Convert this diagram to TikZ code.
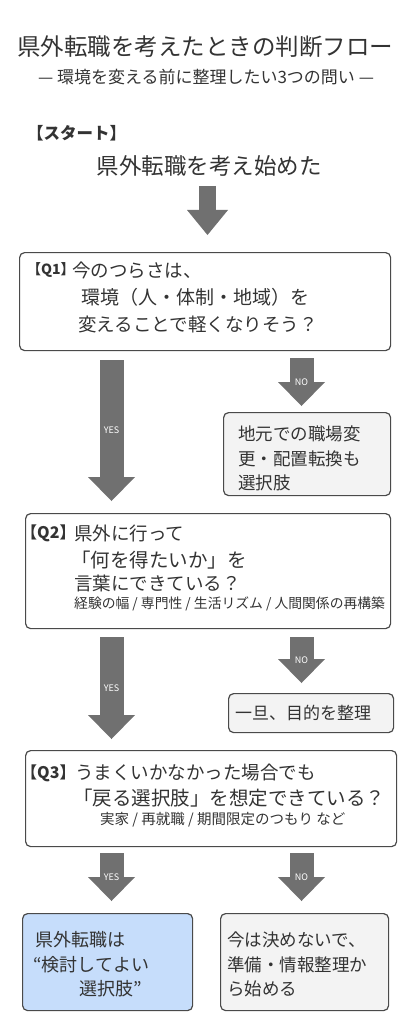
\documentclass[tikz,border=0pt]{standalone}
\usepackage{fontspec}
\setmainfont{Noto Sans CJK JP}
\usetikzlibrary{arrows.meta}
\usetikzlibrary{positioning}
\definecolor{ink}{HTML}{333333}
\definecolor{edge}{HTML}{4A4A4A}
\definecolor{arrowgray}{HTML}{707070}
\definecolor{palegray}{HTML}{F3F3F3}
\definecolor{paleblue}{HTML}{C6DDFB}
\tikzset{box/.style = {draw = edge, line width = 1.2pt, rounded corners = 5pt,
                       anchor = north west, inner sep = 0}}
\tikzset{txt/.style = {anchor = west, inner sep = 0, text = ink,
                       font = \fontsize{18.5}{20}\selectfont}}
\tikzset{note/.style = {txt, font = \fontsize{13.8}{15}\selectfont}}
\tikzset{tag/.style = {txt, font = \fontsize{14}{15}\bfseries}}
\tikzset{fat/.style = {draw = arrowgray, line width = 24pt,
                       -{Triangle[length = 24pt, width = 47pt, line width = 0pt]}}}
\tikzset{flag/.style = {text = white, font = \fontsize{9}{9}\selectfont, inner sep = 0}}

\begin{document}
\begin{tikzpicture}[x = 1pt, y = -1pt]
      \useasboundingbox (0, 0) rectangle (410, 1024);

      \node [text = ink, font = \fontsize{23.5}{25}\selectfont] (title) at (205, 47) {県外転職を考えたときの判断フロー};
      \node [text = ink, font = \fontsize{17}{18}\selectfont] (subtitle) at (206, 77) {— 環境を変える前に整理したい3つの問い —};

      \node [tag, font = \fontsize{16.5}{17}\bfseries] (starttag) at (27, 133) {【スタート】};
      \node [text = ink, font = \fontsize{22.5}{24}\selectfont] (start) at (209, 166) {県外転職を考え始めた};

      \node [box, minimum width = 371pt, minimum height = 98pt] (q1) at (19, 252) {};
      \node [tag] (q1tag) at (27, 270) {【Q1】};
      \node [txt] (q1a) at (72, 270) {今のつらさは、};
      \node [txt, font = \fontsize{19}{20}\selectfont] (q1b) at (81, 297) {環境（人・体制・地域）を};
      \node [txt] (q1c) at (78, 324) {変えることで軽くなりそう？};

      \node [box, fill = palegray, minimum width = 167pt, minimum height = 83pt] (r1) at (223, 412) {};
      \node [txt, font = \fontsize{17.5}{19}\selectfont] (r1a) at (238, 434) {地元での職場変};
      \node [txt, font = \fontsize{17.5}{19}\selectfont] (r1b) at (238, 459) {更・配置転換も};
      \node [txt, font = \fontsize{17.5}{19}\selectfont] (r1c) at (238, 483) {選択肢};

      \node [box, minimum width = 365pt, minimum height = 115pt] (q2) at (25, 513) {};
      \node [tag, font = \fontsize{16}{17}\bfseries] (q2tag) at (21, 533) {【Q2】};
      \node [txt] (q2a) at (74, 533) {県外に行って};
      \node [txt, font = \fontsize{19.5}{20}\selectfont] (q2b) at (71, 560) {「何を得たいか」を};
      \node [txt] (q2c) at (74, 583) {言葉にできている？};
      \node [note] (q2d) at (74, 604) {経験の幅 / 専門性 / 生活リズム / 人間関係の再構築};

      \node [box, fill = palegray, minimum width = 165pt, minimum height = 39pt] (r2) at (228, 693) {};
      \node [txt, font = \fontsize{17}{18}\selectfont] (r2a) at (235, 713) {一旦、目的を整理};

      \node [box, minimum width = 371pt, minimum height = 96pt] (q3) at (25, 750) {};
      \node [tag, font = \fontsize{16}{17}\bfseries] (q3tag) at (21, 773) {【Q3】};
      \node [txt] (q3a) at (75, 773) {うまくいかなかった場合でも};
      \node [txt, font = \fontsize{19.5}{20}\selectfont] (q3b) at (73, 798) {「戻る選択肢」を想定できている？};
      \node [note, font = \fontsize{14.5}{15}\selectfont] (q3c) at (100, 820) {実家 / 再就職 / 期間限定のつもり など};

      \node [box, fill = paleblue, minimum width = 170pt, minimum height = 97pt] (go) at (22, 913) {};
      \node [txt, font = \fontsize{18}{19}\selectfont] (goa) at (35, 940) {県外転職は};
      \node [txt, font = \fontsize{18}{19}\selectfont] (gob) at (33, 965) {“検討してよい};
      \node [txt, font = \fontsize{18}{19}\selectfont] (goc) at (79, 989) {選択肢”};

      \node [box, fill = palegray, minimum width = 168pt, minimum height = 97pt] (wait) at (220, 913) {};
      \node [txt, font = \fontsize{17.5}{19}\selectfont] (waita) at (227, 940) {今は決めないで、};
      \node [txt, font = \fontsize{17.5}{19}\selectfont] (waitb) at (227, 965) {準備・情報整理か};
      \node [txt, font = \fontsize{17.5}{19}\selectfont] (waitc) at (227, 989) {ら始める};

      \coordinate (s0) at (207.5, 186);
      \coordinate (e0) at (207.5, 235);
      \coordinate (y1s) at (111.5, 360);
      \coordinate (y1e) at (111.5, 501);
      \coordinate (n1s) at (301.5, 358);
      \coordinate (n1e) at (301.5, 406);
      \coordinate (y2s) at (111.5, 637);
      \coordinate (y2e) at (111.5, 739);
      \coordinate (n2s) at (301.5, 637);
      \coordinate (n2e) at (301.5, 683);
      \coordinate (y3s) at (111.5, 853);
      \coordinate (y3e) at (111.5, 901);
      \coordinate (n3s) at (301.5, 853);
      \coordinate (n3e) at (301.5, 901);

      \draw [fat, line width = 17pt, -{Triangle[length = 25pt, width = 41pt, line width = 0pt]}] (s0) -- (e0);
      \draw [fat] (y1s) -- (y1e) node [flag, midway] {YES};
      \draw [fat] (n1s) -- (n1e) node [flag, midway] {NO};
      \draw [fat] (y2s) -- (y2e) node [flag, midway] {YES};
      \draw [fat] (n2s) -- (n2e) node [flag, midway] {NO};
      \draw [fat] (y3s) -- (y3e) node [flag, midway] {YES};
      \draw [fat] (n3s) -- (n3e) node [flag, midway] {NO};
    \end{tikzpicture}
\end{document}
